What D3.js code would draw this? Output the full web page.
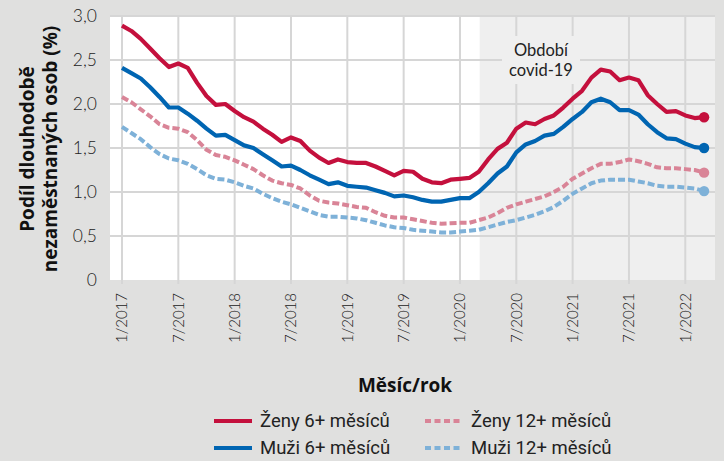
<!DOCTYPE html>
<html>
<head>
<meta charset="utf-8">
<script src="https://cdn.jsdelivr.net/npm/d3@7"></script>
<style>
  body { margin: 0; background: #e0e0df; }
  svg { display: block; font-family: "Lato", "Open Sans", sans-serif; }
  .grid line { stroke: #d6d6d6; stroke-width: 2; }
  .tick-y { font-size: 17.5px; fill: #222; font-weight: 300; }
  .tick-x { font-size: 15px; fill: #222; font-weight: 300; }
  .axis-title { font-family: "Open Sans", sans-serif; font-size: 19px; font-weight: 700; fill: #111; }
  .legend text { font-family: "Roboto", sans-serif; font-size: 18.5px; fill: #222; }
</style>
</head>
<body>
<div id="chart"></div>
<script>
// months from 1/2017 to 3/2022
var startYear = 2017, startMonth = 1, monthCount = 63;

var zeny6 = [2.89,2.83,2.74,2.63,2.52,2.42,2.46,2.41,2.24,2.09,1.99,2.00,
             1.92,1.85,1.80,1.72,1.65,1.57,1.62,1.58,1.47,1.39,1.33,1.37,
             1.34,1.33,1.33,1.29,1.24,1.19,1.24,1.23,1.15,1.11,1.10,1.14,
             1.15,1.16,1.23,1.37,1.49,1.56,1.72,1.79,1.77,1.83,1.87,1.96,
             2.06,2.15,2.30,2.39,2.37,2.27,2.30,2.27,2.10,2.00,1.91,1.92,
             1.87,1.84,1.85];
var muzi6 = [2.41,2.35,2.29,2.19,2.08,1.96,1.96,1.89,1.81,1.72,1.64,1.65,
             1.59,1.53,1.50,1.43,1.36,1.29,1.30,1.25,1.19,1.14,1.09,1.11,
             1.07,1.06,1.05,1.02,0.99,0.95,0.96,0.94,0.91,0.89,0.89,0.91,
             0.93,0.93,1.00,1.10,1.21,1.29,1.45,1.54,1.58,1.64,1.66,1.74,
             1.83,1.91,2.02,2.06,2.02,1.93,1.93,1.88,1.77,1.68,1.61,1.60,
             1.55,1.51,1.50];
var zeny12 = [2.08,2.02,1.94,1.86,1.77,1.73,1.72,1.68,1.59,1.48,1.42,1.40,
              1.36,1.31,1.26,1.19,1.13,1.10,1.08,1.04,0.96,0.90,0.88,0.87,
              0.85,0.83,0.82,0.77,0.73,0.71,0.71,0.69,0.67,0.65,0.64,0.645,
              0.65,0.65,0.68,0.71,0.76,0.82,0.86,0.89,0.92,0.95,1.00,1.06,
              1.15,1.21,1.27,1.32,1.32,1.34,1.37,1.35,1.32,1.28,1.27,1.27,
              1.26,1.25,1.22];
var muzi12 = [1.74,1.67,1.60,1.51,1.43,1.38,1.36,1.32,1.26,1.19,1.15,1.14,
              1.11,1.07,1.04,0.98,0.93,0.89,0.86,0.82,0.78,0.74,0.72,0.72,
              0.71,0.70,0.68,0.65,0.62,0.60,0.59,0.57,0.56,0.55,0.54,0.54,
              0.55,0.56,0.57,0.60,0.63,0.66,0.68,0.71,0.74,0.78,0.83,0.90,
              0.98,1.04,1.10,1.13,1.14,1.14,1.14,1.12,1.10,1.07,1.06,1.06,
              1.05,1.04,1.01];

var yTicks = [0, 0.5, 1, 1.5, 2, 2.5, 3];
var xTickMonths = [0, 6, 12, 18, 24, 30, 36, 42, 48, 54, 60];
var covidStart = 38.1; // brezen 2020

var seriesNames = ["Ženy 6+ měsíců", "Ženy 12+ měsíců", "Muži 6+ měsíců", "Muži 12+ měsíců"];
var seriesColors = ["#c4103d", "#d98497", "#0065b2", "#7eb1d8"];
var seriesDashed = [false, true, false, true];
var seriesValues = [zeny6, zeny12, muzi6, muzi12];

var W = 724, H = 461;
var plot = {left: 110, right: 715, top: 16, bottom: 280};

var svg = d3.select("#chart").append("svg")
  .attr("width", W).attr("height", H);

svg.append("rect").attr("width", W).attr("height", H).attr("fill", "#e0e0df");

var x = d3.scaleLinear().domain([0, 60]).range([122, 685.3]);
var y = d3.scaleLinear().domain([0, 3]).range([plot.bottom, plot.top]);

function monthLabel(i) {
  var m = (startMonth - 1 + i) % 12 + 1;
  var yr = startYear + Math.floor((startMonth - 1 + i) / 12);
  return m + "/" + yr;
}

// plot area
svg.append("rect")
  .attr("x", plot.left).attr("y", plot.top)
  .attr("width", plot.right - plot.left).attr("height", plot.bottom - plot.top)
  .attr("fill", "#fff");
svg.append("rect")
  .attr("x", x(covidStart)).attr("y", plot.top)
  .attr("width", plot.right - x(covidStart)).attr("height", plot.bottom - plot.top)
  .attr("fill", "#efefef");

// grid
var grid = svg.append("g").attr("class", "grid");
grid.selectAll(".h").data(yTicks.filter(function(d){ return d > 0; })).enter()
  .append("line")
  .attr("x1", plot.left).attr("x2", plot.right)
  .attr("y1", function(d){ return y(d); }).attr("y2", function(d){ return y(d); });
grid.selectAll(".v").data(xTickMonths).enter()
  .append("line")
  .attr("x1", function(d){ return x(d); }).attr("x2", function(d){ return x(d); })
  .attr("y1", plot.top).attr("y2", plot.bottom + 4)
  .attr("stroke", function(d){ return d % 12 === 0 ? "#cfcfcf" : "#d9d9d9"; })
  .attr("stroke-width", function(d){ return d % 12 === 0 ? 2.5 : 2; });

// covid label (box hides grid behind it)
var labelX = 541;
svg.append("rect")
  .attr("x", 502).attr("y", 36).attr("width", 78).attr("height", 48)
  .attr("fill", "#efefef");
svg.append("text").attr("x", labelX).attr("y", 56)
  .attr("text-anchor", "middle").attr("font-size", 16.5).attr("fill", "#222")
  .text("Období");
svg.append("text").attr("x", labelX).attr("y", 76)
  .attr("text-anchor", "middle").attr("font-size", 16.5).attr("fill", "#222")
  .text("covid-19");

// y ticks
svg.append("g").selectAll("text").data(yTicks).enter()
  .append("text").attr("class", "tick-y")
  .attr("x", 97).attr("y", function(d){ return y(d); })
  .attr("dy", "0.36em").attr("text-anchor", "end")
  .text(function(d){ return d === 0 ? "0" : d3.format(".1f")(d).replace(".", ","); });

// x ticks
svg.append("g").selectAll("text").data(xTickMonths).enter()
  .append("text").attr("class", "tick-x")
  .attr("transform", function(d){ return "translate(" + x(d) + ",293) rotate(-90)"; })
  .attr("dy", "0.35em").attr("text-anchor", "end")
  .text(monthLabel);

// axis titles
var yTitle = svg.append("text").attr("class", "axis-title")
  .attr("transform", "translate(0,149) rotate(-90)")
  .attr("text-anchor", "middle");
yTitle.append("tspan").attr("x", 0).attr("y", 34).text("Podíl dlouhodobě");
yTitle.append("tspan").attr("x", 0).attr("y", 57).text("nezaměstnaných osob (%)");

svg.append("text").attr("class", "axis-title")
  .attr("x", 405).attr("y", 392).attr("text-anchor", "middle")
  .text("Měsíc/rok");

// lines
var line = d3.line()
  .x(function(d, i){ return x(i); })
  .y(function(d){ return y(d); });

var order = [3, 1, 2, 0];
order.forEach(function(k) {
  svg.append("path")
    .datum(seriesValues[k])
    .attr("d", line)
    .attr("fill", "none")
    .attr("stroke", seriesColors[k])
    .attr("stroke-width", seriesDashed[k] ? 4 : 4.2)
    .attr("stroke-linejoin", "round")
    .attr("stroke-dasharray", seriesDashed[k] ? "7,3" : null);
  var vals = seriesValues[k];
  svg.append("circle")
    .attr("cx", x(vals.length - 1)).attr("cy", y(vals[vals.length - 1]))
    .attr("r", 5.2).attr("fill", seriesColors[k]);
});

// legend
var legend = svg.append("g").attr("class", "legend");
var legendPos = [[214, 421], [425, 421], [214, 448], [425, 448]];
seriesNames.forEach(function(name, k) {
  var p = legendPos[k];
  legend.append("line")
    .attr("x1", p[0]).attr("x2", p[0] + 38)
    .attr("y1", p[1]).attr("y2", p[1])
    .attr("stroke", seriesColors[k]).attr("stroke-width", 4)
    .attr("stroke-dasharray", seriesDashed[k] ? "6,3.5" : null);
  legend.append("text")
    .attr("x", p[0] + 46).attr("y", p[1]).attr("dy", "0.35em")
    .text(name);
});
</script>
</body>
</html>
